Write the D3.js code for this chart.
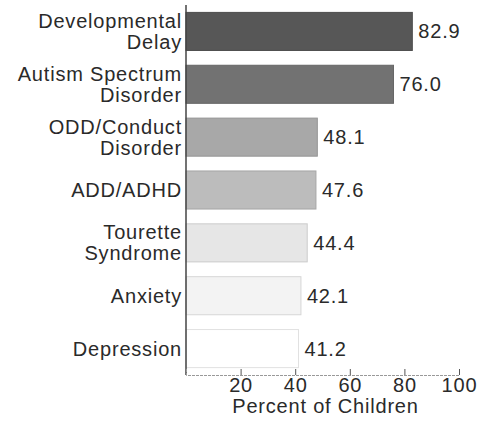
<html>
<head>
<script src="https://d3js.org/d3.v7.min.js"></script>
<style>
  body { margin: 0; background: #fff; }
  text { font-family: "Liberation Sans", Arial, sans-serif; fill: #2a2a2a; letter-spacing: 0.8px; }
</style>
</head>
<body>
<svg id="chart" width="478" height="428"></svg>
<script>
// chart data
var categories = ["Developmental|Delay", "Autism Spectrum|Disorder", "ODD/Conduct|Disorder",
                  "ADD/ADHD", "Tourette|Syndrome", "Anxiety", "Depression"];
var values = [82.9, 76.0, 48.1, 47.6, 44.4, 42.1, 41.2];
var shades = ["#575757", "#727272", "#a8a8a8", "#bcbcbc", "#e6e6e6", "#f3f3f3", "#ffffff"];
var xTicks = [20, 40, 60, 80, 100];

var svg = d3.select("#chart");
var mLeft = 186, mRight = 459, mTop = 5, mBottom = 375;

var x = d3.scaleLinear().domain([0, 100]).range([mLeft, mRight]);
var y = d3.scaleBand().domain(categories).range([mTop, mBottom])
  .paddingInner(0.28).paddingOuter(0.14);

// bars
svg.append("g")
  .selectAll("rect")
  .data(categories)
  .enter()
  .append("rect")
    .attr("x", x(0))
    .attr("y", function(d) { return y(d); })
    .attr("width", function(d, i) { return x(values[i]) - x(0); })
    .attr("height", y.bandwidth())
    .attr("fill", function(d, i) { return shades[i]; })
    .attr("stroke", function(d, i) { return d3.color(shades[i]).darker(0.35); })
    .attr("stroke-width", 1);

// value labels
svg.append("g")
  .selectAll("text")
  .data(categories)
  .enter()
  .append("text")
    .attr("x", function(d, i) { return x(values[i]) + 6; })
    .attr("y", function(d) { return y(d) + y.bandwidth() / 2; })
    .attr("dy", "0.35em")
    .attr("font-size", "20px")
    .text(function(d, i) { return d3.format(".1f")(values[i]); });

// category labels (split on |)
var cat = svg.append("g")
  .selectAll("text")
  .data(categories)
  .enter()
  .append("text")
    .attr("text-anchor", "end")
    .attr("font-size", "20px");

cat.each(function(d) {
  var lines = d.split("|");
  var t = d3.select(this);
  lines.forEach(function(s, k) {
    var off = (k - (lines.length - 1) / 2) * 21;
    t.append("tspan")
      .attr("x", 182)
      .attr("y", y(d) + y.bandwidth() / 2 + off)
      .attr("dy", "0.35em")
      .text(s);
  });
});

// left axis line
svg.append("line")
  .attr("x1", mLeft).attr("x2", mLeft)
  .attr("y1", mTop).attr("y2", mBottom)
  .attr("stroke", "#444").attr("stroke-width", 1.5);

// bottom axis
var xAxis = d3.axisBottom(x).tickValues(xTicks).tickSize(-6).tickPadding(3);
var gx = svg.append("g")
  .attr("transform", "translate(0," + mBottom + ")")
  .call(xAxis);
gx.attr("font-family", null).attr("font-size", null);
gx.select(".domain").attr("stroke", "#999").attr("stroke-dasharray", "3,1");
gx.selectAll(".tick line").attr("stroke", "#555");
gx.selectAll(".tick text")
  .attr("font-size", "20px")
  .attr("fill", "#2a2a2a");

svg.append("text")
  .attr("x", (mLeft + mRight) / 2 + 3)
  .attr("y", 413)
  .attr("text-anchor", "middle")
  .attr("font-size", "20px")
  .text("Percent of Children");
</script>
</body>
</html>
